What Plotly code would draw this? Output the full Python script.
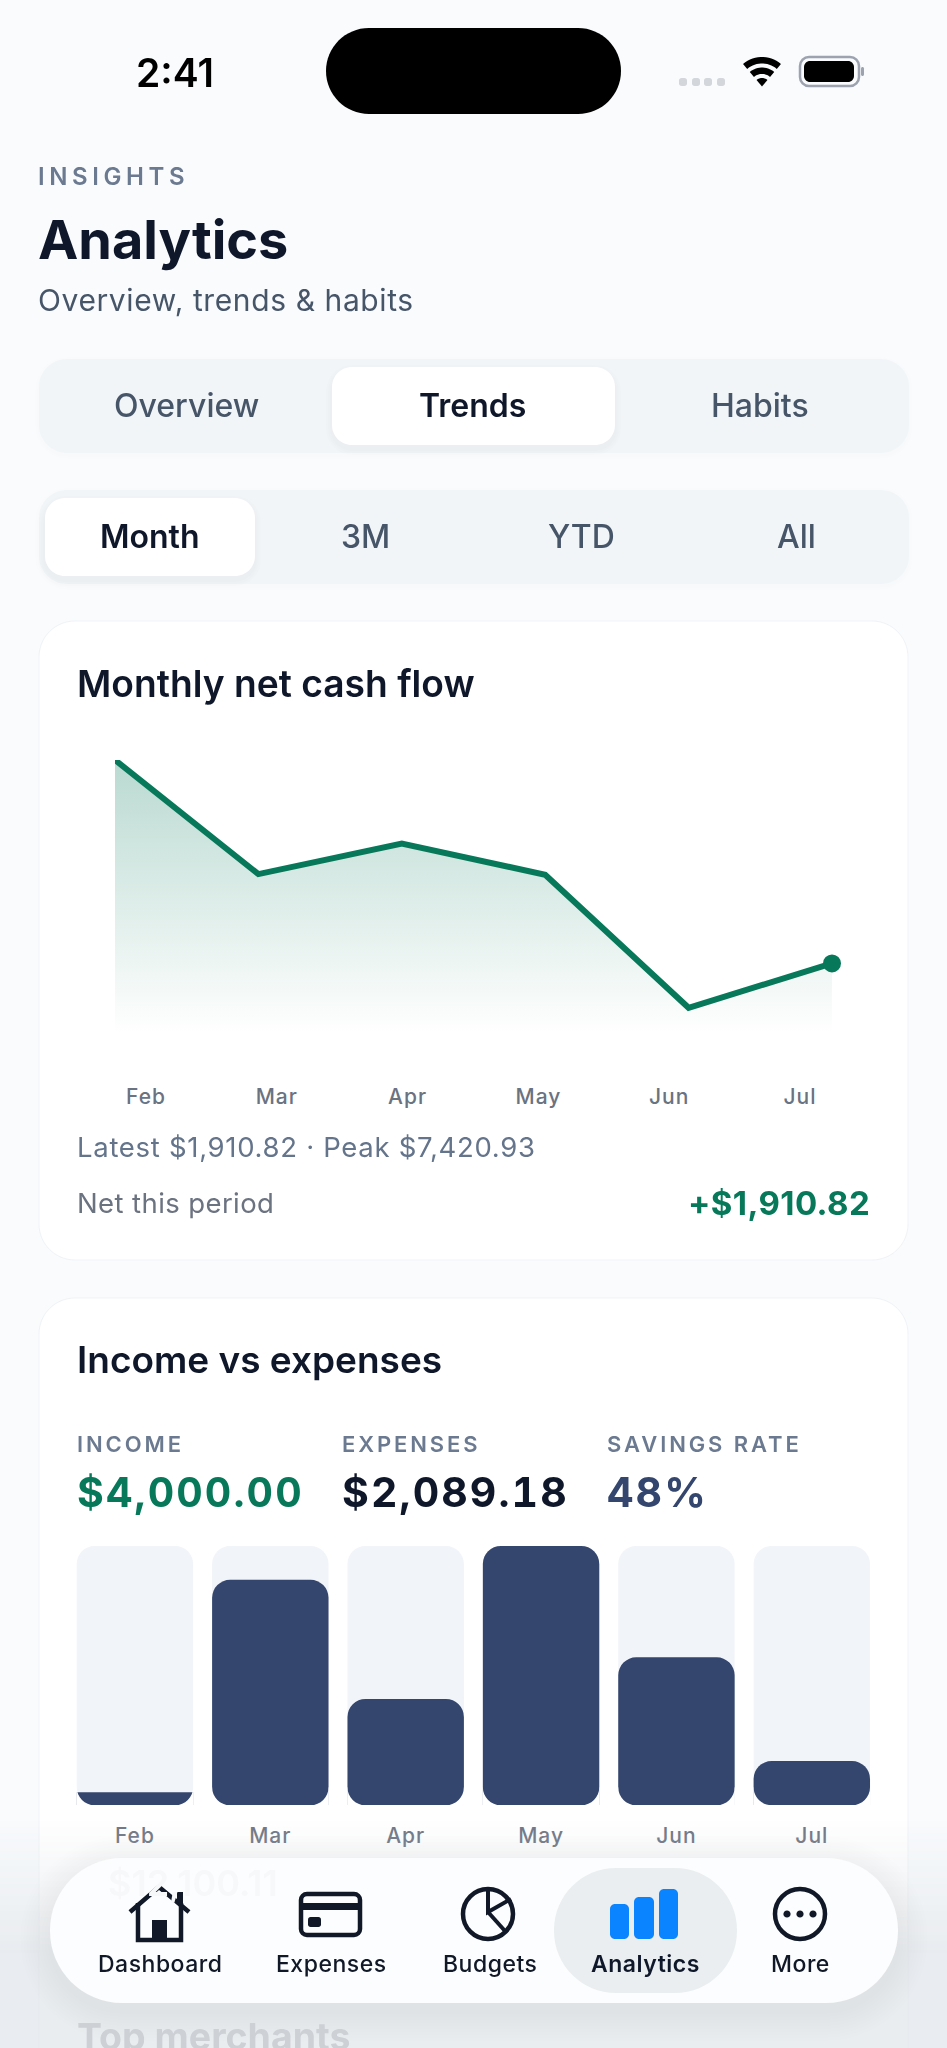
import numpy as np
import plotly.graph_objects as go

W, H = 947, 2048
FONT = "Inter"

# ---- chart data ----
months = ["Feb", "Mar", "Apr", "May", "Jun", "Jul"]
net_cash = [7420.93, 4330, 5160, 4312, 710, 1910.82]
bar_values = [600, 10695, 5035, 12300, 7015, 2089.18]
BAR_MAX = 12300

# bars too short for a top radius keep a flat top
bar_tall = [v if v >= 1000 else None for v in bar_values]
bar_short = [v if v < 1000 else None for v in bar_values]

# ---- colours ----
BG = "#f9fbfd"
INK = "#0f172a"
SLATE = "#475569"
MUTED = "#64748b"
GREEN = "#07795a"
NAVY = "#34466e"
TRACK = "#f1f4f8"
BLUE = "#0a84ff"
BAR_DOMAIN = (67.25, 879.5)
BAR_TOP, BAR_BOTTOM = 1546, 1805
BAR_GAP = 0.14
BAR_RADIUS = 18


def fx(px):
    return px / W


def fy(py):
    return 1 - py / H


def P(x, y):
    return f"{fx(x):.6f},{fy(y):.6f}"


def round_rect(x0, y0, x1, y1, r):
    r = min(r, (x1 - x0) / 2, (y1 - y0) / 2)
    k = r * 0.4477
    return (
        f"M{P(x0 + r, y0)} L{P(x1 - r, y0)} C{P(x1 - k, y0)} {P(x1, y0 + k)} {P(x1, y0 + r)} "
        f"L{P(x1, y1 - r)} C{P(x1, y1 - k)} {P(x1 - k, y1)} {P(x1 - r, y1)} "
        f"L{P(x0 + r, y1)} C{P(x0 + k, y1)} {P(x0, y1 - k)} {P(x0, y1 - r)} "
        f"L{P(x0, y0 + r)} C{P(x0, y0 + k)} {P(x0 + k, y0)} {P(x0 + r, y0)} Z"
    )


def poly(points, close=False):
    s = "M" + " L".join(P(x, y) for x, y in points)
    return s + (" Z" if close else "")


def circle(cx, cy, r):
    return round_rect(cx - r, cy - r, cx + r, cy + r, r)


def arc_pts(cx, cy, r, a0, a1, n=16):
    return [(cx + r * np.cos(np.radians(a)), cy + r * np.sin(np.radians(a)))
            for a in np.linspace(a0, a1, n)]


shapes = []


def add(path, fill=None, line=None, lw=0, layer="below"):
    shapes.append(dict(
        type="path", path=path, xref="paper", yref="paper", layer=layer,
        fillcolor=fill if fill else "rgba(0,0,0,0)",
        line=dict(color=line if line else "rgba(0,0,0,0)", width=lw),
    ))


texts = []


def label(x, y, text, size, color, weight=400, anchor="left", spacing=0, tnum=False):
    css = []
    if spacing:
        css.append(f"letter-spacing:{spacing}px")
    if tnum:
        css.append("font-variant-numeric:tabular-nums")
    body = f'<span style="{";".join(css)}">{text}</span>' if css else text
    texts.append(dict(
        x=fx(x), y=fy(y), xref="paper", yref="paper", text=body, showarrow=False,
        xanchor=anchor, yanchor="middle", align=anchor, borderpad=0, borderwidth=0,
        font=dict(family=FONT, size=size, color=color, weight=weight),
    ))


# ---- segmented controls ----
def soft_shadow(x0, y0, x1, y1, r, dy=4, n=4, a=0.012):
    for i in range(n, 0, -1):
        add(round_rect(x0 - i * 2, y0 - i * 2 + dy, x1 + i * 2, y1 + i * 2 + dy, r + i * 2),
            fill=f"rgba(15,23,42,{a})")


for y0, y1 in [(359, 453), (490, 584)]:
    soft_shadow(39, y0, 909, y1, 28, dy=2, n=2, a=0.005)
    add(round_rect(39, y0, 909, y1, 28), fill="#f2f5f8")
soft_shadow(332, 367, 615, 445, 20, dy=4, n=3, a=0.008)
add(round_rect(332, 367, 615, 445, 20), fill="#ffffff")
soft_shadow(45, 498, 255, 576, 20, dy=4, n=3, a=0.008)
add(round_rect(45, 498, 255, 576, 20), fill="#ffffff")

# ---- cards ----
add(round_rect(39, 621, 908, 1260, 36), fill="#ffffff", line="#f0f3f6", lw=1)
add(round_rect(39, 1298, 908, 2200, 36), fill="#ffffff", line="#f0f3f6", lw=1)

# ---- bar tracks behind the bars, and masks that round the bars' bottom corners ----
step = (BAR_DOMAIN[1] - BAR_DOMAIN[0]) / len(months)
k = BAR_RADIUS * 0.4477
for i in range(len(months)):
    x0 = BAR_DOMAIN[0] + step * (i + BAR_GAP / 2)
    x1 = x0 + step * (1 - BAR_GAP)
    add(round_rect(x0, BAR_TOP, x1, BAR_BOTTOM, BAR_RADIUS), fill=TRACK)
    yb = BAR_BOTTOM + 0.3
    add(f"M{P(x0 - 0.3, yb)} L{P(x0 + BAR_RADIUS, yb)} C{P(x0 + k, yb)} {P(x0, yb - k)} "
        f"{P(x0, yb - BAR_RADIUS)} L{P(x0 - 0.3, yb - BAR_RADIUS)} Z", fill="#ffffff", layer="above")
    add(f"M{P(x1 + 0.3, yb)} L{P(x1 - BAR_RADIUS, yb)} C{P(x1 - k, yb)} {P(x1, yb - k)} "
        f"{P(x1, yb - BAR_RADIUS)} L{P(x1 + 0.3, yb - BAR_RADIUS)} Z", fill="#ffffff", layer="above")

# ---- status bar ----
add(round_rect(326, 28, 621, 114, 43), fill="#000000", layer="above")
for cx in (683, 696, 708, 721):
    add(round_rect(cx - 4, 78, cx + 4, 86, 2.5), fill="#d3d6da", layer="above")
for r0, r1 in [(29.5, 23), (19, 12.5)]:
    pts = arc_pts(762, 86.5, r0, -130, -50) + arc_pts(762, 86.5, r1, -50, -130)
    add(poly(pts, True), fill="#000000", layer="above")
add(poly(arc_pts(762, 86.5, 8.5, -130, -50) + [(762, 86.5)], True), fill="#000000", layer="above")
add(round_rect(800, 57, 859, 86, 9), line="#9ca3af", lw=2.5, layer="above")
add(round_rect(804, 61, 854, 82, 6), fill="#000000", layer="above")
add(round_rect(861, 67, 864, 76, 1.5), fill="#9ca3af", layer="above")

# ---- bottom fade ----
for i in range(0, 233, 3):
    t = i / 232
    add(f"M{P(0, 1815 + i)} L{P(W, 1815 + i)} L{P(W, 1818 + i)} L{P(0, 1818 + i)} Z",
        fill=f"rgba(226,230,234,{0.72 * min(1, t * 1.7):.3f})", layer="above")

# ---- navigation bar ----
for i in range(10, 0, -1):
    add(round_rect(50 - i * 3, 1858 - i * 3 + 8, 898 + i * 3, 2003 + i * 3 + 8, 72 + i * 3),
        fill="rgba(30,41,59,0.004)", layer="above")
add(round_rect(50, 1858, 898, 2003, 72), fill="#fcfdfe", layer="above")
add(round_rect(554, 1868, 737, 1993, 62), fill="#ebeef0", layer="above")

# home icon
add(poly([(130, 1912), (159, 1887), (189, 1912)]), line="#111827", lw=4.5, layer="above")
add(poly([(138, 1903), (138, 1940), (181, 1940), (181, 1903)]), line="#111827", lw=4.5, layer="above")
add(poly([(152, 1920), (167, 1920), (167, 1940), (152, 1940)], True), fill="#111827", layer="above")
add(poly([(177, 1892), (183, 1892), (183, 1907), (177, 1902)], True), fill="#111827", layer="above")
# card icon
add(round_rect(301, 1894, 360, 1935, 6), line="#111827", lw=4.5, layer="above")
add(poly([(301, 1903), (360, 1903), (360, 1910), (301, 1910)], True), fill="#111827", layer="above")
add(round_rect(308, 1917, 321, 1927, 2.5), fill="#111827", layer="above")
# pie icon
add(circle(488, 1914, 25), line="#111827", lw=4.5, layer="above")
add(poly([(488, 1889), (488, 1912), (511, 1899)]), line="#111827", lw=4, layer="above")
add(poly([(488, 1912), (505, 1931)]), line="#111827", lw=4, layer="above")
# bars icon
for x0, x1, y0 in [(610, 629, 1904), (634, 654, 1897), (659, 678, 1889)]:
    add(round_rect(x0, y0, x1, 1939, 5), fill=BLUE, layer="above")
# more icon
add(circle(800, 1914, 25), line="#111827", lw=4.5, layer="above")
for cx in (787, 800, 813):
    add(circle(cx, 1914, 3.6), fill="#111827", layer="above")

# ---- texts ----
label(175, 72, "2:41", 39, "#000000", 600, "center")
label(38, 176, "INSIGHTS", 24, "#6b7a90", 600, spacing=4.6)
label(38, 239, "Analytics", 54, INK, 700)
label(38, 300, "Overview, trends &amp; habits", 30, SLATE, 400, spacing=0.6)
for x, t, c, w in [(186, "Overview", SLATE, 500), (472, "Trends", INK, 600), (760, "Habits", SLATE, 500),
                   (150, "Month", INK, 600), (365, "3M", SLATE, 500), (581, "YTD", SLATE, 500), (796, "All", SLATE, 500)]:
    label(x, 405 if t in ("Overview", "Trends", "Habits") else 536, t, 32, c, w, "center")
label(77, 683, "Monthly net cash flow", 37.2, INK, 600)
label(77, 1147, "Latest $1,910.82 · Peak $7,420.93", 27.5, MUTED, 400, spacing=0.7)
label(77, 1203, "Net this period", 27.5, "#6b7280", 400, spacing=0.4)
label(870, 1203, "+$1,910.82", 33, GREEN, 700, "right", spacing=0.4)
label(77, 1359, "Income vs expenses", 37, INK, 600)
label(77, 1444, "INCOME", 22, "#6b7a90", 600, spacing=2.9)
label(342, 1444, "EXPENSES", 22, "#6b7a90", 600, spacing=2.9)
label(607, 1444, "SAVINGS RATE", 22, "#6b7a90", 600, spacing=2.9)
label(77, 1492, "$4,000.00", 41, GREEN, 700, spacing=2.1, tnum=True)
label(342, 1492, "$2,089.18", 41, INK, 700, spacing=2.1, tnum=True)
label(607, 1492, "48%", 41, NAVY, 700, spacing=2.1, tnum=True)
label(108, 1883, "$12,100.11", 36, "#f7f8fa", 600)
for x, t, c, w in [(160, "Dashboard", "#111827", 500), (331, "Expenses", "#111827", 500), (490, "Budgets", "#111827", 500),
                   (645, "Analytics", INK, 600), (800, "More", "#111827", 500)]:
    label(x, 1964, t, 23, c, w, "center", spacing=0.5)
label(77, 2036, "Top merchants", 37.5, "#cdd1d6", 700)

tick_labels = [f'<span style="letter-spacing:1px">{m}</span>' for m in months]

fig = go.Figure()
# net cash flow area and line
fig.add_trace(go.Scatter(
    x=months, y=net_cash, mode="lines", xaxis="x", yaxis="y", cliponaxis=False, hoverinfo="skip",
    line=dict(color=GREEN, width=6, shape="linear"), fill="tozeroy",
    fillgradient=dict(type="vertical", colorscale=[[0, "rgba(7,121,90,0)"], [1, "rgba(7,121,90,0.28)"]]),
))
fig.add_trace(go.Scatter(
    x=months[-1:], y=net_cash[-1:], mode="markers", xaxis="x", yaxis="y", cliponaxis=False, hoverinfo="skip",
    marker=dict(color=GREEN, size=18),
))
# label row of the line chart: evenly spaced cells, not aligned with the points
fig.add_trace(go.Scatter(
    x=months, y=net_cash, mode="markers", xaxis="x2", yaxis="y2", opacity=0, hoverinfo="skip",
))
# bars
fig.add_trace(go.Bar(x=months, y=bar_tall, xaxis="x3", yaxis="y3",
                     marker=dict(color=NAVY, cornerradius=BAR_RADIUS, line=dict(width=0)), hoverinfo="skip"))
fig.add_trace(go.Bar(x=months, y=bar_short, xaxis="x3", yaxis="y3",
                     marker=dict(color=NAVY, line=dict(width=0)), hoverinfo="skip"))

hidden = dict(showgrid=False, zeroline=False, showline=False, showticklabels=False, ticks="", fixedrange=True)
tickfont = dict(family=FONT, size=21, color="#6b7280", weight=500)


def xticks():
    return dict(showgrid=False, zeroline=False, showline=False, ticks="", fixedrange=True,
                type="category", categoryorder="array", categoryarray=months,
                tickmode="array", tickvals=months, ticktext=tick_labels, tickfont=tickfont, tickangle=0)


fig.update_layout(
    width=W, height=H, autosize=False, margin=dict(l=0, r=0, t=0, b=0, pad=0),
    paper_bgcolor=BG, plot_bgcolor="rgba(0,0,0,0)", showlegend=False, hovermode=False,
    barmode="overlay", bargap=BAR_GAP, shapes=shapes, annotations=texts,
    font=dict(family=FONT),
    xaxis=dict(**hidden, domain=[fx(115), fx(832)], type="category", categoryorder="array",
               categoryarray=months, range=[0, 5], anchor="y"),
    yaxis=dict(**hidden, domain=[fy(1034), fy(760)], range=[0, 7420.93], anchor="x"),
    xaxis2=dict(**xticks(), domain=[fx(80.6), fx(865.4)], range=[-0.5, 5.5], anchor="y2"),
    yaxis2=dict(**hidden, domain=[fy(1082), fy(1040)], range=[0, 1e4], anchor="x2"),
    xaxis3=dict(**xticks(), domain=[fx(BAR_DOMAIN[0]), fx(BAR_DOMAIN[1])], range=[-0.5, 5.5], anchor="y3",
                ticklabelstandoff=16),
    yaxis3=dict(**hidden, domain=[fy(BAR_BOTTOM), fy(BAR_TOP)], range=[0, BAR_MAX], anchor="x3"),
)

fig.write_html("out.html", config=dict(displayModeBar=False, staticPlot=True),
               post_script="document.body.style.margin='0';document.documentElement.style.background='#f9fbfd';")
